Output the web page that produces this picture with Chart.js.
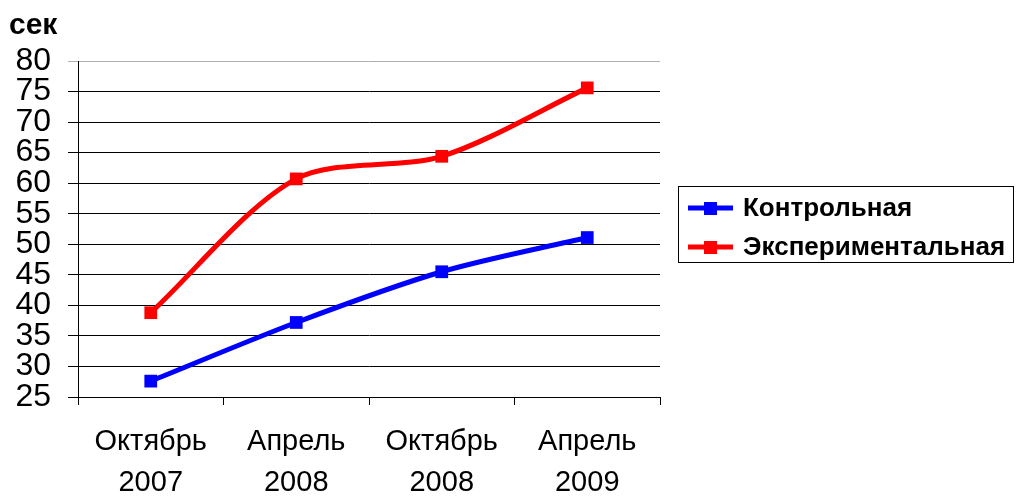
<!DOCTYPE html>
<html lang="ru">
<head>
  <meta charset="UTF-8" />
  <title>сек</title>
  <script src="https://cdn.jsdelivr.net/npm/chart.js"></script>
  <style>
    html, body {
      margin: 0;
      padding: 0;
      background: #fff;
    }
    .wrap {
      position: relative;
      width: 1022px;
      height: 496px;
    }
  </style>
</head>
<body>
  <div class="wrap">
    <canvas id="chart" width="1022" height="496"></canvas>
  </div>

  <script>
    const periods = [['Октябрь', '2007'], ['Апрель', '2008'], ['Октябрь', '2008'], ['Апрель', '2009']];
    const control = [27.6, 37.2, 45.5, 51.1];
    const experimental = [38.8, 60.7, 64.4, 75.6];
    const seriesNames = ['Контрольная', 'Экспериментальная'];
    const unitLabel = 'сек';

    const FONT = "'Liberation Sans', Arial, sans-serif";

    // unit caption + boxed legend, drawn on the canvas
    const extras = {
      id: 'extras',
      afterDraw(chart) {
        const c = chart.ctx;
        c.save();
        c.fillStyle = '#000';
        c.font = 'bold 30px ' + FONT;
        c.textBaseline = 'alphabetic';
        c.fillText(unitLabel, 9, 34);

        // legend box
        c.strokeStyle = '#000';
        c.lineWidth = 1;
        c.strokeRect(678.5, 186.5, 335, 76);

        const rows = [208, 247];
        chart.data.datasets.forEach((ds, i) => {
          const y = rows[i];
          c.strokeStyle = ds.borderColor;
          c.lineWidth = 5;
          c.beginPath();
          c.moveTo(688, y);
          c.lineTo(733, y);
          c.stroke();
          c.fillStyle = ds.borderColor;
          c.fillRect(704, y - 6, 13, 13);
          c.fillStyle = '#000';
          c.font = 'bold 26px ' + FONT;
          c.textBaseline = 'middle';
          c.fillText(ds.label, 743, y + 1);
        });
        c.restore();
      }
    };

    const ctx = document.getElementById('chart').getContext('2d');
    new Chart(ctx, {
      type: 'line',
      data: {
        labels: periods,
        datasets: [
          {
            label: seriesNames[0],
            data: control,
            borderColor: '#0000ff',
            backgroundColor: '#0000ff',
            borderWidth: 5,
            pointStyle: 'rect',
            pointRadius: 9,
            pointBorderWidth: 0,
            tension: 0.3
          },
          {
            label: seriesNames[1],
            data: experimental,
            borderColor: '#ff0000',
            backgroundColor: '#ff0000',
            borderWidth: 5,
            pointStyle: 'rect',
            pointRadius: 9,
            pointBorderWidth: 0,
            tension: 0.3
          }
        ]
      },
      options: {
        responsive: false,
        animation: false,
        events: [],
        layout: {
          padding: { top: 61, right: 362, bottom: 0, left: 0 }
        },
        plugins: {
          legend: { display: false },
          title: { display: false },
          tooltip: { enabled: false }
        },
        scales: {
          x: {
            offset: true,
            afterFit: s => { s.height = 99; },
            border: { color: '#000', width: 1 },
            grid: {
              offset: true,
              drawOnChartArea: false,
              drawTicks: true,
              tickLength: 8,
              color: '#000'
            },
            ticks: {
              color: '#000',
              padding: 17,
              maxRotation: 0,
              autoSkip: false,
              font: { family: FONT, size: 29, lineHeight: 1.41 }
            }
          },
          y: {
            min: 25,
            max: 80,
            afterFit: s => { s.width = 78; },
            border: { color: '#000', width: 1 },
            grid: {
              color: c => (c.tick && c.tick.value === 80 ? '#b0b0b0' : '#000'),
              lineWidth: 1,
              tickLength: 10
            },
            ticks: {
              stepSize: 5,
              autoSkip: false,
              color: '#000',
              padding: 17,
              font: { family: FONT, size: 32 }
            }
          }
        }
      },
      plugins: [extras]
    });
  </script>
</body>
</html>
